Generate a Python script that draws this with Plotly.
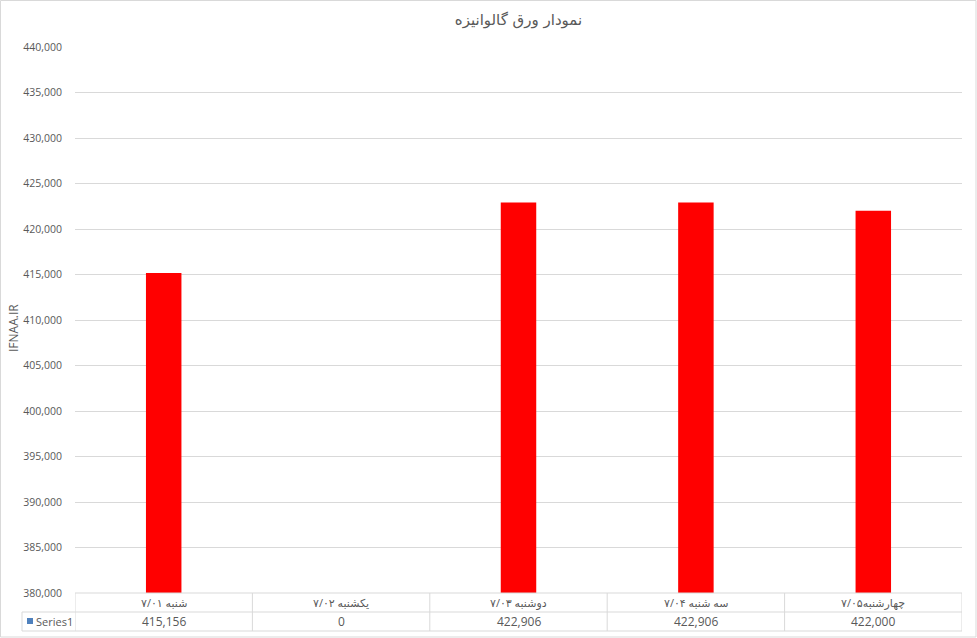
import plotly.graph_objects as go

# ---- data ----
categories = ["شنبه ۷/۰۱", "یکشنبه ۷/۰۲", "دوشنبه ۷/۰۳", "سه شنبه ۷/۰۴", "چهارشنبه۷/۰۵"]
values = [415156, 0, 422906, 422906, 422000]
series_name = "Series1"
title_text = "نمودار ورق گالوانیزه"
y_title = "IFNAA.IR"
y_ticks = list(range(380000, 440001, 5000))

W, H = 977, 638
L, R, T, B = 75, 15, 47, 45
PW, PH = W - L - R, H - T - B

def xp(px):
    return (px - L) / PW

def yp(py):
    return (H - B - py) / PH

GRID = "#D9D9D9"
TXT = "#595959"
FONT = "Open Sans, DejaVu Sans, sans-serif"

fig = go.Figure()
fig.add_trace(go.Bar(
    x=categories, y=values, name=series_name,
    marker=dict(color="#FF0000", line=dict(width=0)),
    showlegend=False,
))

shapes = []
annotations = []

# table: horizontal lines
for py in (593, 612, 631):
    x0 = 22 if py != 593 else L
    shapes.append(dict(type="line", xref="paper", yref="paper",
                       x0=xp(x0), x1=1, y0=yp(py), y1=yp(py),
                       line=dict(color=GRID, width=1)))
# table: vertical separators between categories
for i in range(len(categories) + 1):
    shapes.append(dict(type="line", xref="x", yref="paper",
                       x0=i - 0.5, x1=i - 0.5, y0=yp(593), y1=yp(631),
                       line=dict(color=GRID, width=1)))
# left header cell border
shapes.append(dict(type="line", xref="paper", yref="paper",
                   x0=xp(22), x1=xp(22), y0=yp(612), y1=yp(631),
                   line=dict(color=GRID, width=1)))
# legend key
shapes.append(dict(type="rect", xref="paper", yref="paper",
                   x0=xp(27), x1=xp(33), y0=yp(618), y1=yp(624),
                   line=dict(width=0), fillcolor="#4F81BD"))
# outer chart border
shapes.append(dict(type="rect", xref="paper", yref="paper",
                   x0=xp(0.5), x1=xp(976), y0=yp(637), y1=yp(0.5),
                   line=dict(color=GRID, width=1), fillcolor="rgba(0,0,0,0)"))

for c, v in zip(categories, values):
    annotations.append(dict(x=c, xref="x", y=yp(602), yref="paper",
                            text=c, showarrow=False,
                            font=dict(family=FONT, size=11, color=TXT),
                            xanchor="center", yanchor="middle"))
    annotations.append(dict(x=c, xref="x", y=yp(621.5), yref="paper",
                            text=f"{v:,}", showarrow=False,
                            font=dict(family=FONT, size=12, color=TXT),
                            xanchor="center", yanchor="middle"))

annotations.append(dict(x=xp(34), xref="paper", y=yp(621.5), yref="paper",
                        text=series_name, showarrow=False,
                        font=dict(family=FONT, size=11, color=TXT),
                        xanchor="left", yanchor="middle"))
annotations.append(dict(x=xp(13), xref="paper", y=yp(328), yref="paper",
                        text=y_title, showarrow=False, textangle=-90,
                        font=dict(family=FONT, size=12, color=TXT),
                        xanchor="center", yanchor="middle"))

fig.update_layout(
    width=W, height=H,
    margin=dict(l=L, r=R, t=T, b=B),
    paper_bgcolor="white", plot_bgcolor="white",
    bargap=0.8,
    title=dict(text=title_text, x=0.5, xref="paper", y=1 - 20 / H, yanchor="middle",
               font=dict(family="DejaVu Sans, sans-serif", size=15, color=TXT)),
    xaxis=dict(showticklabels=False, ticks="", showgrid=False, zeroline=False,
               showline=False, range=[-0.5, len(categories) - 0.5]),
    yaxis=dict(range=[380000, 440000], tickvals=y_ticks,
               ticktext=[f"{t:,}" for t in y_ticks],
               showgrid=True, gridcolor=GRID, gridwidth=1, zeroline=False,
               showline=False, ticks="", ticklabelstandoff=12,
               tickfont=dict(family=FONT, size=10.5, color=TXT)),
    shapes=shapes, annotations=annotations,
    font=dict(family=FONT, color=TXT),
)

fig.write_html("out.html",
               config={"displayModeBar": False},
               post_script="document.body.style.margin='0';document.body.style.overflow='hidden';")
